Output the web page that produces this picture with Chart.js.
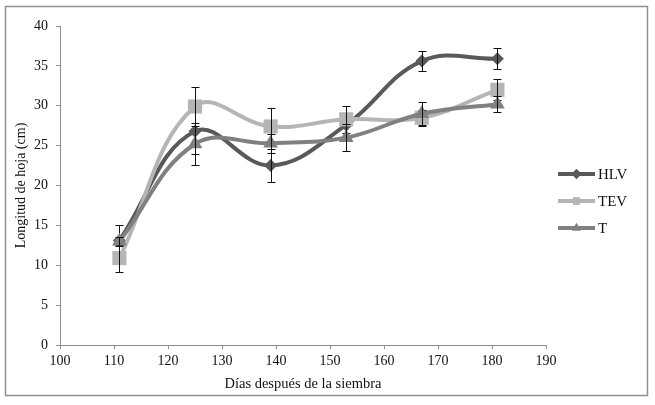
<!DOCTYPE html>
<html>
<head>
<meta charset="utf-8">
<script src="https://cdn.jsdelivr.net/npm/chart.js@4/dist/chart.umd.min.js"></script>
<style>
  html, body { margin: 0; padding: 0; background: #fff; }
  canvas { display: block; }
</style>
</head>
<body>
<canvas id="grafico" width="655" height="405"></canvas>
<script>
// datos
const dias = [111, 125, 139, 153, 167, 181];
const hlv = [13.1, 26.8, 22.5, 27.6, 35.6, 35.9];
const tev = [10.9, 29.9, 27.4, 28.3, 28.5, 32.0];
const t = [13.0, 25.2, 25.3, 26.0, 29.0, 30.2];
const hlvErr = [2.0, 2.8, 2.1, 1.5, 1.25, 1.35];
const tevErr = [1.7, 2.5, 2.3, 1.7, 1.0, 1.3];
const tErr = [0.6, 2.65, 1.2, 1.7, 1.45, 1.0];
const nombres = ["HLV", "TEV", "T"];
const xTicks = [100, 110, 120, 130, 140, 150, 160, 170, 180, 190];
const yTicks = [0, 5, 10, 15, 20, 25, 30, 35, 40];

const fuente = "'Liberation Serif', 'Times New Roman', serif";
const errores = [hlvErr, tevErr, tErr];

function puntos(ys) {
  return dias.map((d, i) => ({ x: d, y: ys[i] }));
}

// barras de error, dibujadas despues de cada serie
const barrasError = {
  id: 'barrasError',
  afterDatasetDraw(chart, args) {
    const err = errores[args.index];
    if (!err) return;
    const ctx = chart.ctx;
    const xs = chart.scales.x, ys = chart.scales.y;
    const ds = chart.data.datasets[args.index];
    ctx.save();
    ctx.strokeStyle = '#111';
    ctx.lineWidth = 1;
    ds.data.forEach((p, i) => {
      const px = Math.round(xs.getPixelForValue(p.x)) + 0.5;
      const top = Math.round(ys.getPixelForValue(p.y + err[i])) + 0.5;
      const bot = Math.round(ys.getPixelForValue(p.y - err[i])) + 0.5;
      ctx.beginPath();
      ctx.moveTo(px, top); ctx.lineTo(px, bot);
      ctx.moveTo(px - 4, top); ctx.lineTo(px + 4, top);
      ctx.moveTo(px - 4, bot); ctx.lineTo(px + 4, bot);
      ctx.stroke();
    });
    ctx.restore();
  }
};

// marco y leyenda
const marco = {
  id: 'marco',
  beforeDraw(chart) {
    const ctx = chart.ctx;
    ctx.save();
    ctx.fillStyle = '#fff';
    ctx.fillRect(0, 0, chart.width, chart.height);
    ctx.strokeStyle = '#8f8f8f';
    ctx.lineWidth = 1.5;
    ctx.strokeRect(5.5, 6.5, 642, 389);
    ctx.restore();
  },
  afterDraw(chart) {
    const ctx = chart.ctx;
    ctx.save();
    chart.data.datasets.forEach((ds, i) => {
      const y = 174 + i * 27;
      ctx.strokeStyle = ds.borderColor;
      ctx.lineWidth = 4;
      ctx.beginPath();
      ctx.moveTo(558, y); ctx.lineTo(595, y);
      ctx.stroke();
      ctx.fillStyle = ds.pointBackgroundColor;
      Chart.helpers.drawPoint(ctx, { pointStyle: ds.pointStyle, radius: 5, borderWidth: 0 }, 576.5, y);
      ctx.fill();
      ctx.fillStyle = '#111';
      ctx.font = "15px " + fuente;
      ctx.textBaseline = 'middle';
      ctx.fillText(ds.label, 598, y + 1);
    });
    ctx.restore();
  }
};

new Chart(document.getElementById("grafico"), {
  type: 'scatter',
  data: {
    datasets: [
      {
        label: nombres[0],
        data: puntos(hlv),
        showLine: true,
        tension: 0.4,
        borderColor: '#595959',
        borderWidth: 4,
        pointStyle: 'rectRot',
        pointRadius: 6.5,
        pointBackgroundColor: '#595959',
        pointBorderColor: '#595959',
        pointBorderWidth: 0,
        order: 3
      },
      {
        label: nombres[1],
        data: puntos(tev),
        showLine: true,
        tension: 0.4,
        borderColor: '#b5b5b5',
        borderWidth: 4,
        pointStyle: 'rect',
        pointRadius: 10,
        pointBackgroundColor: '#b5b5b5',
        pointBorderColor: '#b5b5b5',
        pointBorderWidth: 0,
        order: 2
      },
      {
        label: nombres[2],
        data: puntos(t),
        showLine: true,
        tension: 0.4,
        borderColor: '#808080',
        borderWidth: 4,
        pointStyle: 'triangle',
        pointRadius: 8.5,
        pointBackgroundColor: '#808080',
        pointBorderColor: '#808080',
        pointBorderWidth: 0,
        order: 1
      }
    ]
  },
  options: {
    responsive: false,
    animation: false,
    devicePixelRatio: 1,
    layout: { padding: { left: 0, top: 26, right: 109, bottom: 0 } },
    plugins: {
      legend: { display: false },
      tooltip: { enabled: false }
    },
    scales: {
      x: {
        type: 'linear',
        min: 100,
        max: 190,
        afterBuildTicks(scale) { scale.ticks = xTicks.map(v => ({ value: v })); },
        afterFit(scale) { scale.height = 60; },
        grid: { drawOnChartArea: false, tickLength: 4, color: '#8f8f8f' },
        border: { color: '#8f8f8f', width: 1 },
        ticks: { color: '#111', font: { family: fuente, size: 14 }, padding: 4, maxRotation: 0 },
        title: {
          display: true,
          text: 'Días después de la siembra',
          color: '#111',
          font: { family: fuente, size: 14.5 },
          padding: { top: 0, bottom: 12 }
        }
      },
      y: {
        min: 0,
        max: 40,
        afterBuildTicks(scale) { scale.ticks = yTicks.map(v => ({ value: v })); },
        afterFit(scale) { scale.width = 60; },
        grid: { drawOnChartArea: false, tickLength: 4, color: '#8f8f8f' },
        border: { color: '#8f8f8f', width: 1 },
        ticks: { color: '#111', font: { family: fuente, size: 14 }, padding: 8 },
        title: {
          display: true,
          text: 'Longitud de hoja (cm)',
          color: '#111',
          font: { family: fuente, size: 14 },
          padding: { top: 13, bottom: 0 }
        }
      }
    }
  },
  plugins: [marco, barrasError]
});
</script>
</body>
</html>
